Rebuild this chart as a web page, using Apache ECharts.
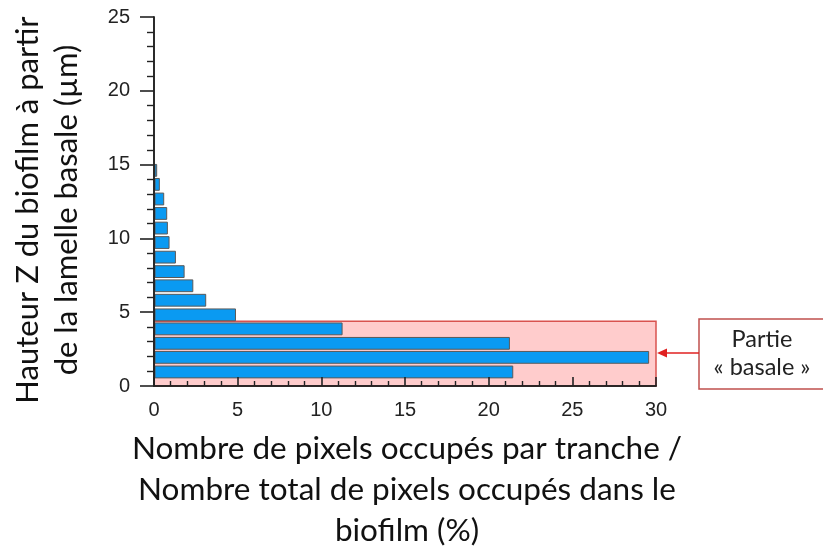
<!DOCTYPE html>
<html>
<head>
<meta charset="utf-8">
<script src="https://cdn.jsdelivr.net/npm/echarts@6/dist/echarts.min.js"></script>
<style>
  html, body { margin: 0; padding: 0; background: #fff; }
  #chart { width: 823px; height: 556px; }
</style>
</head>
<body>
<div id="chart"></div>
<script>
// Centre height of each confocal slice above the basal coverslip (µm)
const sliceHeights = [0.95, 1.94, 2.89, 3.87, 4.82, 5.81, 6.79, 7.75, 8.73, 9.72, 10.70, 11.69, 12.67, 13.66, 14.61];
// Share of the biofilm's occupied pixels found in each slice (%)
const pixelShares = [21.44, 29.56, 21.24, 11.24, 4.87, 3.09, 2.32, 1.80, 1.28, 0.90, 0.80, 0.76, 0.58, 0.32, 0.16];
// Upper limit of the "basal" part of the biofilm (µm)
const basalTop = 4.38;

const xTitle = 'Nombre de pixels occupés par tranche /\nNombre total de pixels occupés dans le\nbiofilm (%)';
const yTitle = 'Hauteur Z du biofilm à partir\nde la lamelle basale (µm)';
const noteLines = ['Partie', '« basale »'];

const sliceHalf = 0.4;
const titleFont = 'Lato, "Open Sans", sans-serif';
const tickFont = '"Liberation Sans", Arial, sans-serif';

const chart = echarts.init(document.getElementById('chart'), null, { renderer: 'canvas' });

const frameAxis = {
  show: true,
  z: 10,
  axisLine: { show: true, lineStyle: { color: '#222', width: 1.6 } },
  axisTick: { show: false },
  axisLabel: { show: false },
  splitLine: { show: false }
};

chart.setOption({
  animation: false,
  backgroundColor: '#fff',
  grid: { left: 154, top: 17, right: 167, bottom: 170, containLabel: false },
  xAxis: [{
    type: 'value', min: 0, max: 30, interval: 5, position: 'bottom', z: 10,
    axisLine: { show: true, onZero: false, lineStyle: { color: '#222', width: 1.6 } },
    axisTick: { show: true, inside: true, length: 9, lineStyle: { color: '#222', width: 1.6 } },
    minorTick: { show: true, splitNumber: 5, length: 5, lineStyle: { color: '#222', width: 1.4 } },
    axisLabel: { margin: 14, fontFamily: tickFont, fontSize: 20, color: '#222' },
    splitLine: { show: false }
  }, Object.assign({ type: 'value', min: 0, max: 30, position: 'top' }, frameAxis)],
  yAxis: [{
    type: 'value', min: 0, max: 25, interval: 5, position: 'left', z: 10,
    axisLine: { show: true, onZero: false, lineStyle: { color: '#222', width: 1.6 } },
    axisTick: { show: true, inside: false, length: 14, lineStyle: { color: '#222', width: 1.6 } },
    minorTick: { show: true, splitNumber: 5, length: 7, lineStyle: { color: '#222', width: 1.4 } },
    axisLabel: { margin: 24, fontFamily: tickFont, fontSize: 20, color: '#222' },
    splitLine: { show: false }
  }, Object.assign({ type: 'value', min: 0, max: 25, position: 'right' }, frameAxis)],
  series: [{
    // shaded basal zone
    type: 'line', data: [], z: 1, silent: true,
    markArea: {
      silent: true,
      itemStyle: { color: '#ffcccc', borderColor: '#d9534f', borderWidth: 1.5 },
      data: [[{ xAxis: 0, yAxis: 0 }, { xAxis: 30, yAxis: basalTop }]]
    }
  }, {
    type: 'custom', z: 3,
    data: pixelShares.map((v, i) => [v, sliceHeights[i]]),
    encode: { x: 0, y: 1 },
    renderItem(params, api) {
      const w = api.value(0), h = api.value(1);
      const p0 = api.coord([0, h + sliceHalf]);
      const p1 = api.coord([w, h - sliceHalf]);
      return {
        type: 'rect',
        shape: { x: p0[0] + 1, y: p0[1], width: p1[0] - p0[0] - 1, height: p1[1] - p0[1] },
        style: { fill: '#0a9af2', stroke: '#5a5a5a', lineWidth: 1 }
      };
    }
  }],
  graphic: [{
    type: 'text', x: 407, y: 428,
    style: { text: xTitle, font: '31.5px ' + titleFont, fill: '#111', textAlign: 'center', lineHeight: 41 }
  }, {
    type: 'text', x: 8, y: 210, rotation: Math.PI / 2,
    style: { text: yTitle, font: '31px ' + titleFont, fill: '#111', textAlign: 'center', lineHeight: 39 }
  }, {
    type: 'rect', shape: { x: 699, y: 319, width: 140, height: 70 },
    style: { fill: '#fff', stroke: '#c0504d', lineWidth: 1.5 }
  }, {
    type: 'text', x: 762, y: 325,
    style: { text: noteLines.join('\n'), font: '23.5px ' + titleFont, fill: '#222', textAlign: 'center', lineHeight: 28 }
  }, {
    type: 'line', shape: { x1: 699, y1: 353, x2: 664, y2: 353 },
    style: { stroke: '#e02020', lineWidth: 1.6 }
  }, {
    type: 'polygon', shape: { points: [[657, 353], [667, 348.5], [667, 357.5]] },
    style: { fill: '#e02020' }
  }]
});
</script>
</body>
</html>
